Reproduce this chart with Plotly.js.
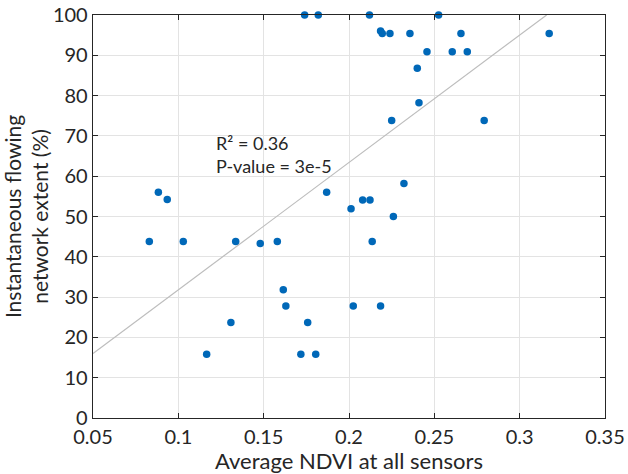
<!DOCTYPE html>
<html>
<head>
<meta charset="utf-8">
<script src="https://cdn.plot.ly/plotly-3.0.1.min.js"></script>
<style>html,body{margin:0;padding:0;background:#fff;}#chart{width:628px;height:474px;}</style>
</head>
<body>
<div id="chart"></div>
<script>
// Average NDVI at all sensors (x) and instantaneous flowing network extent in % (y)
var ndvi = [0.174, 0.182, 0.212, 0.2525, 0.2185, 0.2195, 0.224, 0.2357, 0.2656, 0.3173,
            0.2457, 0.2605, 0.2693, 0.240, 0.241, 0.225, 0.2792, 0.2322, 0.0883, 0.1869,
            0.0935, 0.208, 0.2123, 0.2012, 0.226, 0.083, 0.1029, 0.1336, 0.148, 0.158,
            0.2136, 0.1615, 0.163, 0.2025, 0.2185, 0.1308, 0.1758, 0.1166, 0.1718, 0.1805];
var extent = [100, 100, 100, 100, 96, 95.4, 95.4, 95.4, 95.4, 95.4,
              90.9, 90.9, 90.9, 86.8, 78.2, 73.8, 73.8, 58.2, 56, 56,
              54.2, 54.1, 54.1, 51.9, 50, 43.8, 43.8, 43.8, 43.3, 43.8,
              43.8, 31.8, 27.8, 27.8, 27.8, 23.7, 23.7, 15.8, 15.8, 15.8];
// regression line end points
var fitX = [0.05, 0.3158];
var fitY = [16, 100];
// tick labels
var xTickVals = [0.05, 0.1, 0.15, 0.2, 0.25, 0.3, 0.35];
var xTickText = ['0.05', '0.1', '0.15', '0.2', '0.25', '0.3', '0.35'];
var yTickVals = [0, 10, 20, 30, 40, 50, 60, 70, 80, 90, 100];
var statsText = ['R\u00b2 = 0.36', 'P-value = 3e-5'];

var FONT = 'Lato, "Noto Sans", sans-serif';
var traces = [
  {x: fitX, y: fitY, mode: 'lines', type: 'scatter',
   line: {color: '#bdbdbd', width: 1.2}, hoverinfo: 'skip', showlegend: false},
  {x: ndvi, y: extent, mode: 'markers', type: 'scatter', cliponaxis: false,
   marker: {color: '#0068B8', size: 7.5}, showlegend: false}
];
var layout = {
  width: 628, height: 474,
  margin: {l: 93, r: 23, t: 15, b: 56, pad: 0},
  paper_bgcolor: '#fff', plot_bgcolor: '#fff',
  font: {family: FONT, color: '#262626', size: 19},
  showlegend: false,
  xaxis: {
    range: [0.05, 0.35], tickvals: xTickVals, ticktext: xTickText,
    showgrid: true, gridcolor: '#e3e3e3', gridwidth: 1,
    zeroline: false, showline: true, linecolor: '#262626', linewidth: 1.3,
    mirror: 'ticks', ticks: 'inside', ticklen: 5, tickcolor: '#262626',
    tickfont: {family: FONT, size: 20, color: '#262626'},
    ticklabelstandoff: 1,
    title: {text: 'Average NDVI at all sensors', font: {family: FONT, size: 22, color: '#262626'}, standoff: 1}
  },
  yaxis: {
    range: [0, 100], tickvals: yTickVals,
    showgrid: true, gridcolor: '#e3e3e3', gridwidth: 1,
    zeroline: false, showline: true, linecolor: '#262626', linewidth: 1.3,
    mirror: 'ticks', ticks: 'inside', ticklen: 5, tickcolor: '#262626',
    tickfont: {family: FONT, size: 20, color: '#262626'},
    title: {text: 'Instantaneous flowing<br>network extent (%)', font: {family: FONT, size: 21, color: '#262626'}, standoff: 2}
  },
  annotations: [{
    x: 0.121, y: 65.5, xref: 'x', yref: 'y', xanchor: 'left', yanchor: 'middle',
    align: 'left', showarrow: false, text: statsText.join('<br>'),
    font: {family: FONT, size: 18, color: '#262626'}
  }]
};
Plotly.newPlot('chart', traces, layout, {displayModeBar: false, staticPlot: true});
</script>
</body>
</html>
